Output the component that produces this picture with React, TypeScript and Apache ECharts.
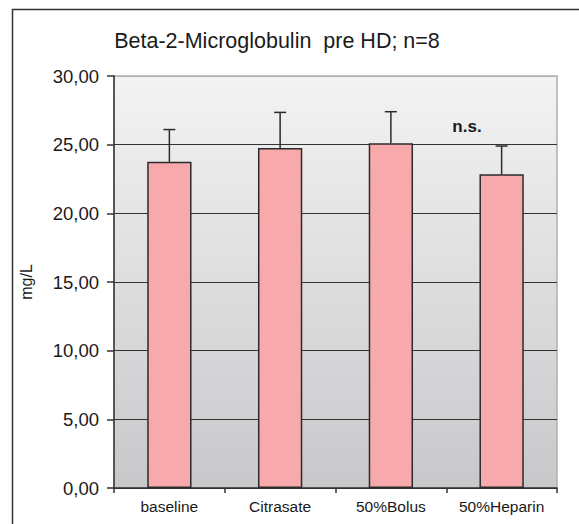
import React, { useEffect, useRef } from "react";
import * as echarts from "echarts";

const categories = ["baseline", "Citrasate", "50%Bolus", "50%Heparin"];
const means = [23.75, 24.75, 25.1, 22.85];
const errors = [2.35, 2.6, 2.3, 2.05];
const yTicks = { min: 0, max: 30, interval: 5 };
const titleText = "Beta-2-Microglobulin  pre HD; n=8";
const yName = "mg/L";
const annotation = "n.s.";

export default function App() {
  const ref = useRef<HTMLDivElement>(null);
  useEffect(() => {
    if (!ref.current) return;
    const chart = echarts.init(ref.current, undefined, { renderer: "svg" });
    const font = "Liberation Sans, Arial, sans-serif";
    chart.setOption({
      animation: false,
      backgroundColor: "#ffffff",
      title: {
        text: titleText,
        left: 272,
        top: 25,
        textAlign: "center",
        textStyle: { fontFamily: font, fontSize: 21.5, fontWeight: "normal", color: "#1a1a1a" },
      },
      grid: {
        left: 114,
        top: 76,
        right: 22,
        bottom: 36,
        show: true,
        borderColor: "#b0b0b0",
        borderWidth: 1.5,
        backgroundColor: new echarts.graphic.LinearGradient(0, 0, 0, 1, [
          { offset: 0, color: "#f3f3f3" },
          { offset: 1, color: "#c7c8ca" },
        ]),
      },
      xAxis: {
        type: "category",
        data: categories,
        axisLine: { lineStyle: { color: "#333", width: 1.5 } },
        axisTick: { show: true, length: 5, lineStyle: { color: "#333", width: 1.5 } },
        axisLabel: { interval: 0, hideOverlap: false, fontFamily: font, fontSize: 15.5, color: "#1a1a1a", margin: 10 },
      },
      yAxis: {
        type: "value",
        min: yTicks.min,
        max: yTicks.max,
        interval: yTicks.interval,
        name: yName,
        nameLocation: "middle",
        nameRotate: 90,
        nameGap: 80,
        nameTextStyle: { fontFamily: font, fontSize: 16, color: "#1a1a1a" },
        axisLine: { show: true, lineStyle: { color: "#333", width: 1.5 } },
        axisTick: { show: true, length: 7, lineStyle: { color: "#333", width: 1.5 } },
        axisLabel: {
          fontFamily: font,
          fontSize: 18.5,
          color: "#1a1a1a",
          margin: 15,
          formatter: (v: number) => v.toFixed(2).replace(".", ","),
        },
        splitLine: {
          show: true,
          lineStyle: {
            color: ["#333", "#333", "#333", "#333", "#333", "#333", "#b0b0b0"],
            width: 1.2,
          },
        },
      },
      series: [
        {
          type: "bar",
          data: means,
          barWidth: "40%",
          itemStyle: { color: "#f7a9ac", borderColor: "#2b2b2b", borderWidth: 1.5 },
          z: 2,
        },
        {
          type: "custom",
          data: means.map((m, i) => [i, m, errors[i]]),
          z: 3,
          renderItem: (params: any, api: any) => {
            const i = api.value(0);
            const m = api.value(1);
            const e = api.value(2);
            const base = api.coord([i, m]);
            const top = api.coord([i, m + e]);
            const style = { stroke: "#2b2b2b", lineWidth: 1.5 };
            return {
              type: "group",
              children: [
                { type: "line", shape: { x1: base[0], y1: base[1], x2: top[0], y2: top[1] }, style },
                { type: "line", shape: { x1: top[0] - 6, y1: top[1], x2: top[0] + 6, y2: top[1] }, style },
              ],
            };
          },
        },
      ],
      graphic: [
        {
          type: "rect",
          shape: { x: 12.5, y: 9.5, width: 700, height: 700 },
          style: { fill: "none", stroke: "#333", lineWidth: 1.5 },
          silent: true,
        },
        {
          type: "text",
          x: 467,
          y: 126,
          style: {
            text: annotation,
            fontFamily: font,
            fontSize: 17,
            fontWeight: "bold",
            fill: "#1a1a1a",
            align: "center",
            verticalAlign: "middle",
          },
        },
      ],
    });
    return () => chart.dispose();
  }, []);
  return (
    <div
      ref={ref}
      style={{ position: "absolute", left: 0, top: 0, width: 579, height: 524 }}
    />
  );
}
